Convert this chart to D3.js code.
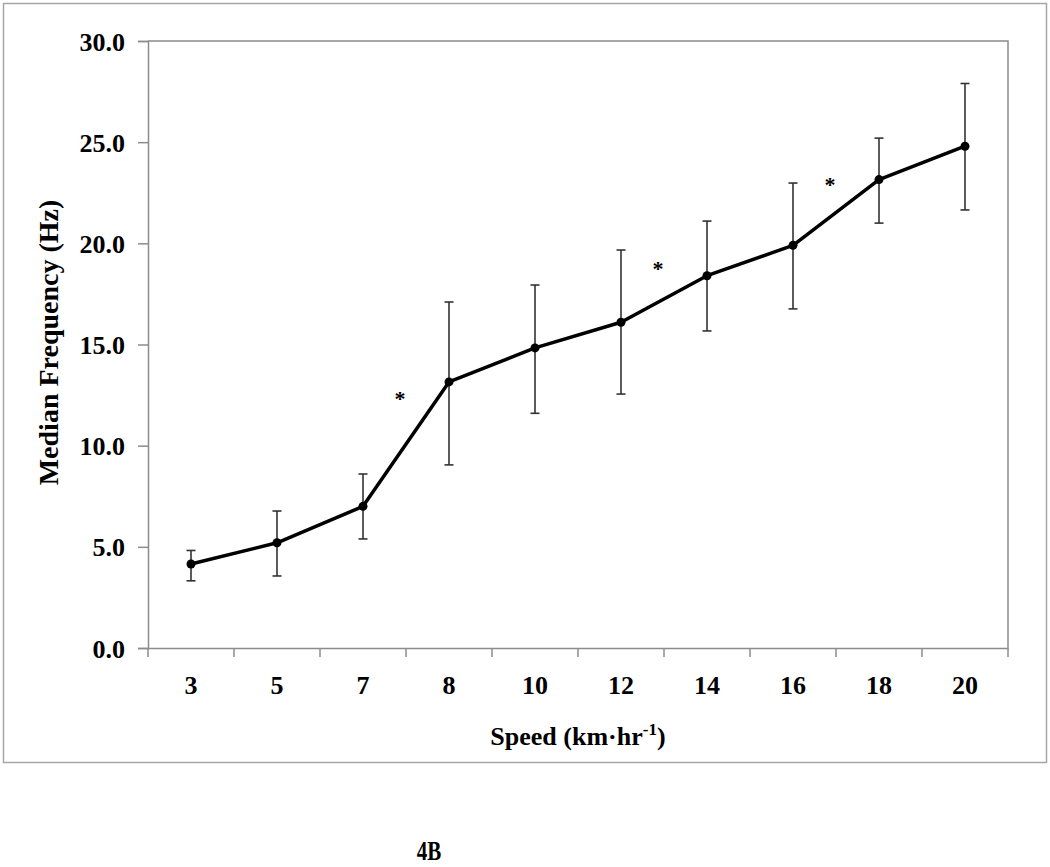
<!DOCTYPE html>
<html>
<head>
<meta charset="utf-8">
<script src="https://cdn.jsdelivr.net/npm/d3@7"></script>
<style>
  body { margin: 0; background: #fff; }
  svg text { font-family: "Liberation Serif", "Times New Roman", serif; font-weight: bold; fill: #000; }
</style>
</head>
<body>
<svg id="chart" width="1050" height="867"></svg>
<script>
// speeds (km/hr) and median frequency (Hz)
const speeds = ["3", "5", "7", "8", "10", "12", "14", "16", "18", "20"];
const medians = [4.15, 5.2, 7.0, 13.15, 14.83, 16.1, 18.4, 19.9, 23.15, 24.8];
const upper = [4.82, 6.77, 8.6, 17.1, 17.94, 19.67, 21.1, 22.98, 25.2, 27.9];
const lower = [3.32, 3.56, 5.39, 9.05, 11.6, 12.55, 15.67, 16.76, 21.0, 21.65];
const yTicks = [0, 5, 10, 15, 20, 25, 30];

// significance markers sit between two speeds
const stars = [
  { after: "7", value: 12.45 },
  { after: "12", value: 18.9 },
  { after: "16", value: 23.05 }
];

const svg = d3.select("#chart");
const margin = { top: 41, right: 42, bottom: 219, left: 148 };
const width = 1050, height = 867;
const chartWidth = width - margin.left - margin.right;
const chartHeight = height - margin.top - margin.bottom;

// outer frame
svg.append("rect")
    .attr("x", 3.5).attr("y", 3.5)
    .attr("width", 1043).attr("height", 759)
    .attr("fill", "none")
    .attr("stroke", "#a6a6a6")
    .attr("stroke-width", 1.5);

const g = svg.append("g")
    .attr("transform", `translate(${margin.left},${margin.top})`);

const x = d3.scaleBand()
    .domain(speeds)
    .range([0, chartWidth]);

const y = d3.scaleLinear()
    .domain([0, 30])
    .range([chartHeight, 0]);

// plot area top and right border
g.append("path")
    .attr("d", `M0,0H${chartWidth}V${chartHeight}`)
    .attr("fill", "none")
    .attr("stroke", "#8c8c8c")
    .attr("stroke-width", 1.5);

// y-axis
const yAxis = g.append("g")
    .call(d3.axisLeft(y).tickValues(yTicks).tickFormat(d3.format(".1f")).tickSize(10).tickPadding(13));
yAxis.select(".domain").attr("stroke", "#8c8c8c").attr("stroke-width", 1.5);
yAxis.selectAll(".tick line").attr("stroke", "#8c8c8c").attr("stroke-width", 1.5);
yAxis.selectAll("text").style("font-size", "26px").attr("dy", "0.35em");

// x-axis labels
const xAxis = g.append("g")
    .attr("transform", `translate(0,${chartHeight})`)
    .call(d3.axisBottom(x).tickSize(0).tickPadding(28));
xAxis.select(".domain").attr("stroke", "#8c8c8c").attr("stroke-width", 1.5);
xAxis.selectAll("text").style("font-size", "26px");

// x ticks on category boundaries
const bounds = speeds.map(s => x(s)).concat([chartWidth]);
g.append("g")
    .selectAll("line")
    .data(bounds)
    .enter()
    .append("line")
    .attr("x1", d => d).attr("x2", d => d)
    .attr("y1", chartHeight).attr("y2", chartHeight + 9)
    .attr("stroke", "#8c8c8c")
    .attr("stroke-width", 1.5);

// axis titles
g.append("text")
    .attr("x", chartWidth / 2)
    .attr("y", chartHeight + 97)
    .attr("text-anchor", "middle")
    .style("font-size", "26px")
    .html('Speed (km·hr<tspan dy="-10" style="font-size:17px">-1</tspan><tspan dy="10">)</tspan>');

g.append("text")
    .attr("transform", "rotate(-90)")
    .attr("x", -chartHeight / 2 + 2)
    .attr("y", -90)
    .attr("text-anchor", "middle")
    .style("font-size", "28px")
    .text("Median Frequency (Hz)");

const cx = s => x(s) + x.bandwidth() / 2;

// error bars
const errs = g.append("g").attr("stroke", "#333").attr("stroke-width", 1.6);
speeds.forEach((s, i) => {
    errs.append("line")
        .attr("x1", cx(s)).attr("x2", cx(s))
        .attr("y1", y(upper[i])).attr("y2", y(lower[i]));
    [upper[i], lower[i]].forEach(v => {
        errs.append("line")
            .attr("x1", cx(s) - 4.5).attr("x2", cx(s) + 4.5)
            .attr("y1", y(v)).attr("y2", y(v));
    });
});

// median line
const line = d3.line()
    .x((d, i) => cx(speeds[i]))
    .y(d => y(d));

g.append("path")
    .datum(medians)
    .attr("d", line)
    .attr("fill", "none")
    .attr("stroke", "#000")
    .attr("stroke-width", 3.5)
    .attr("stroke-linejoin", "round");

g.selectAll("circle")
    .data(medians)
    .enter()
    .append("circle")
    .attr("cx", (d, i) => cx(speeds[i]))
    .attr("cy", d => y(d))
    .attr("r", 4.5)
    .attr("fill", "#000");

// asterisks
g.selectAll(".star")
    .data(stars)
    .enter()
    .append("text")
    .attr("class", "star")
    .attr("x", d => x(d.after) + x.bandwidth() - 6)
    .attr("y", d => y(d.value) + 10)
    .attr("text-anchor", "middle")
    .style("font-size", "22px")
    .text("*");

// panel label
svg.append("text")
    .attr("transform", "translate(429,860) scale(0.75,1)")
    .attr("text-anchor", "middle")
    .style("font-size", "28px")
    .text("4B");
</script>
</body>
</html>
